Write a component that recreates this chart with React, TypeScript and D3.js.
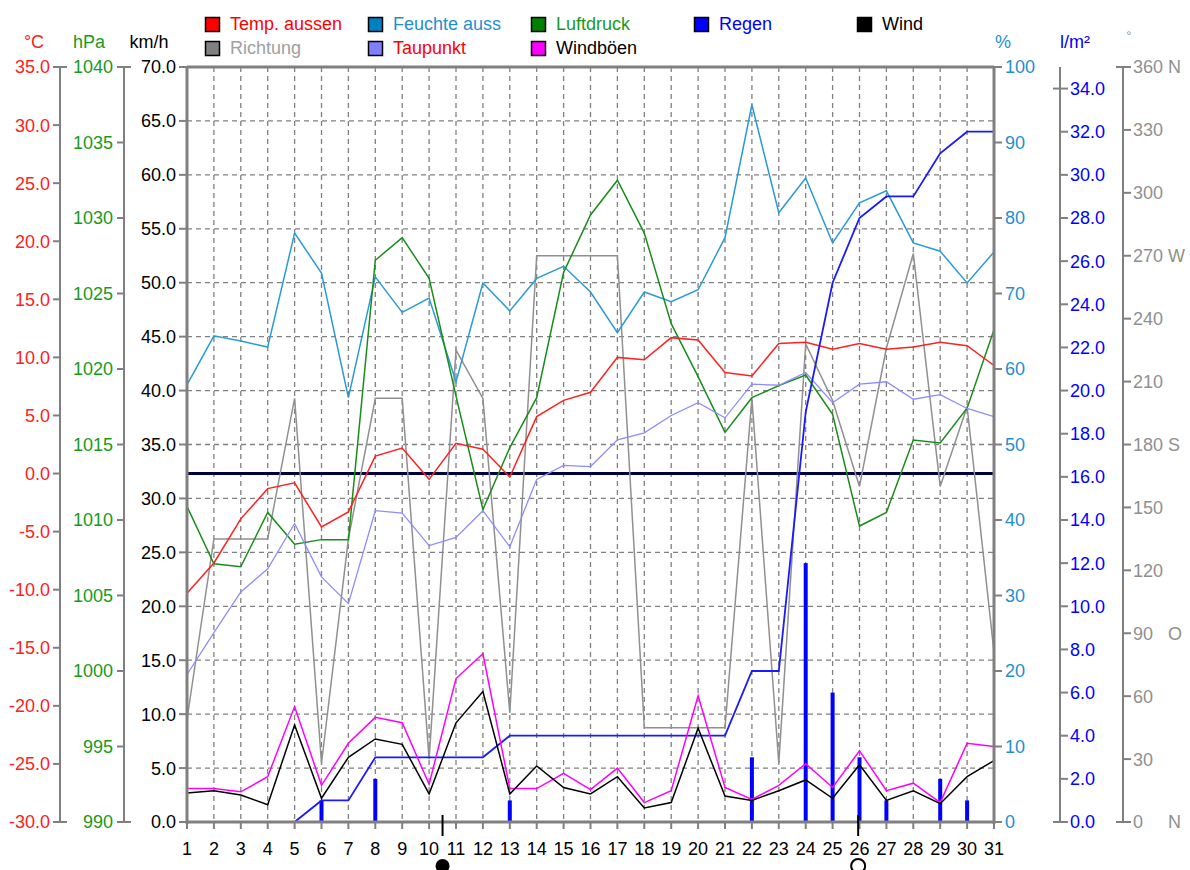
import React from "react";
import * as d3 from "d3";

// Tageswerte Monat, Tag 1..31
const days = d3.range(1, 32);

const tempAussen = [-10.3, -7.7, -3.9, -1.3, -0.8, -4.6, -3.3, 1.5, 2.2, -0.5, 2.6, 2.1, -0.3, 4.9, 6.3, 7.0, 10.0, 9.8, 11.7, 11.5, 8.7, 8.4, 11.2, 11.3, 10.7, 11.2, 10.7, 10.9, 11.3, 11.0, 9.3];
const taupunkt = [-17.3, -13.7, -10.2, -8.2, -4.3, -8.9, -11.2, -3.2, -3.4, -6.2, -5.5, -3.2, -6.3, -0.5, 0.7, 0.6, 2.9, 3.5, 5.0, 6.1, 4.8, 7.7, 7.6, 8.7, 6.1, 7.7, 7.9, 6.4, 6.8, 5.6, 4.9];
const feuchte = [57.9, 64.4, 63.7, 62.9, 78, 72.7, 56.2, 72.2, 67.5, 69.4, 58.3, 71.4, 67.7, 72.0, 73.6, 70.2, 64.8, 70.2, 68.9, 70.5, 77.4, 95, 80.7, 85.3, 76.7, 82, 83.6, 76.7, 75.6, 71.4, 75.5];
const luftdruck = [1010.9, 1007.1, 1006.9, 1010.5, 1008.4, 1008.7, 1008.7, 1027.2, 1028.7, 1026.0, 1018.2, 1010.7, 1014.8, 1018.1, 1026.4, 1030.2, 1032.5, 1029.0, 1023.0, 1019.5, 1015.8, 1018.1, 1018.9, 1019.6, 1017.0, 1009.6, 1010.5, 1015.3, 1015.1, 1017.4, 1022.6];
const richtung = [49, 135, 135, 135, 202, 28, 135, 202, 202, 30, 225, 202, 52, 270, 270, 270, 270, 45, 45, 45, 45, 202, 28, 228, 201, 160, 226, 271, 160, 198, 81];
const wind = [2.7, 2.9, 2.5, 1.6, 9.0, 2.2, 6.0, 7.7, 7.2, 2.6, 9.2, 12.1, 2.6, 5.2, 3.2, 2.6, 4.2, 1.3, 1.8, 8.7, 2.4, 2.0, 2.9, 3.9, 2.2, 5.3, 2.0, 2.9, 1.7, 4.2, 5.7];
const windboeen = [3.1, 3.1, 2.8, 4.2, 10.7, 3.4, 7.3, 9.7, 9.2, 3.5, 13.3, 15.6, 3.1, 3.1, 4.5, 3.0, 5.0, 1.8, 2.9, 11.7, 3.2, 2.1, 3.4, 5.4, 3.2, 6.6, 2.9, 3.6, 1.8, 7.3, 7.0];
const regenTag = [0, 0, 0, 0, 0, 1, 0, 2, 0, 0, 0, 0, 1, 0, 0, 0, 0, 0, 0, 0, 0, 3, 0, 12, 6, 3, 1, 0, 2, 1, 0];
const regenSumme: (number | null)[] = [null, null, null, null, 0, 1, 1, 3, 3, 3, 3, 3, 4, 4, 4, 4, 4, 4, 4, 4, 4, 7, 7, 19, 25, 28, 29, 29, 31, 32, 32];

const richtungLabels = ["0", "30", "60", "90", "120", "150", "180", "210", "240", "270", "300", "330", "360"];
const himmelsrichtung: Record<string, string> = { "0": "N", "90": "O", "180": "S", "270": "W", "360": "N" };

const neumond = 10.5;
const vollmond = 25.95;

const legend = [
  { name: "Temp. aussen", box: "#ff0000", text: "#ff0000", col: 0, row: 0 },
  { name: "Feuchte auss", box: "#0080c0", text: "#1e90d0", col: 1, row: 0 },
  { name: "Luftdruck", box: "#008000", text: "#1a9a1a", col: 2, row: 0 },
  { name: "Regen", box: "#0000ff", text: "#0000ff", col: 3, row: 0 },
  { name: "Wind", box: "#000000", text: "#000000", col: 4, row: 0 },
  { name: "Richtung", box: "#808080", text: "#a0a0a0", col: 0, row: 1 },
  { name: "Taupunkt", box: "#8080ff", text: "#ff0000", col: 1, row: 1 },
  { name: "Windböen", box: "#ff00ff", text: "#000000", col: 2, row: 1 },
];

const W = 1190;
const H = 870;
const L = 187;
const R = 994;
const T = 67;
const B = 822;
const FONT = "'Liberation Sans', Arial, sans-serif";

export default function App() {
  const x = d3.scaleLinear().domain([1, 31]).range([L, R]);
  const yKmh = d3.scaleLinear().domain([0, 70]).range([B, T]);
  const yTemp = d3.scaleLinear().domain([-30, 35]).range([B, T]);
  const yHpa = d3.scaleLinear().domain([990, 1040]).range([B, T]);
  const yHum = d3.scaleLinear().domain([0, 100]).range([B, T]);
  const yRain = d3.scaleLinear().domain([0, 35]).range([B, T]);
  const yDir = d3.scaleLinear().domain([0, 360]).range([B, T]);

  const mk = (vals: (number | null)[], y: d3.ScaleLinear<number, number>) =>
    d3
      .line<number | null>()
      .defined((v) => v !== null)
      .x((_, i) => x(days[i]))
      .y((v) => y(v as number))(vals) || "";

  const kmhTicks = d3.range(0, 70.1, 5);
  const tempTicks = d3.range(-30, 35.1, 5);
  const hpaTicks = d3.range(990, 1040.1, 5);
  const humTicks = d3.range(0, 100.1, 10);
  const rainTicks = d3.range(0, 34.1, 2);

  const txt = { fontFamily: FONT, fontSize: 18 };

  return (
    <svg width={W} height={H} style={{ position: "absolute", left: 0, top: 0, background: "#fff" }}>
      {/* Legende */}
      {legend.map((d) => (
        <g key={d.name} transform={`translate(${205 + d.col * 163},${17 + d.row * 24})`}>
          <rect x={0.5} y={0.5} width={14} height={14} fill={d.box} stroke="#000" strokeWidth={1.5} />
          <text x={25} y={13} fill={d.text} {...txt}>{d.name}</text>
        </g>
      ))}

      {/* Achsentitel */}
      <text x={34} y={48} fill="#ff2020" textAnchor="middle" {...txt}>°C</text>
      <text x={89} y={48} fill="#1a9a1a" textAnchor="middle" {...txt}>hPa</text>
      <text x={149} y={48} fill="#000" textAnchor="middle" {...txt}>km/h</text>
      <text x={1003} y={48} fill="#1e90d0" textAnchor="middle" {...txt}>%</text>
      <text x={1075} y={48} fill="#0000ff" textAnchor="middle" {...txt}>l/m²</text>
      <text x={1129} y={40} fill="#909090" textAnchor="middle" fontFamily={FONT} fontSize={12}>°</text>

      {/* Gitter */}
      {kmhTicks.slice(1, -1).map((t) => (
        <line key={"h" + t} x1={L} x2={R} y1={yKmh(t)} y2={yKmh(t)} stroke="#808080" strokeWidth={1.3} strokeDasharray="5,4" />
      ))}
      {days.slice(1, -1).map((d) => (
        <line key={"v" + d} x1={x(d)} x2={x(d)} y1={T} y2={B} stroke="#808080" strokeWidth={1.3} strokeDasharray="5,4" />
      ))}

      {/* °C Achse */}
      <line x1={60} x2={60} y1={T} y2={B} stroke="#808080" strokeWidth={2} />
      {tempTicks.map((t, i) => {
        const end = i === 0 || i === tempTicks.length - 1;
        return (
          <g key={"t" + t}>
            <line x1={53} x2={end ? 67 : 60} y1={yTemp(t)} y2={yTemp(t)} stroke="#808080" strokeWidth={2} />
            <text x={50} y={yTemp(t)} dy="0.36em" textAnchor="end" fill="#ff2020" {...txt}>{t.toFixed(1)}</text>
          </g>
        );
      })}

      {/* hPa Achse */}
      <line x1={124} x2={124} y1={T} y2={B} stroke="#808080" strokeWidth={2} />
      {hpaTicks.map((t, i) => {
        const end = i === 0 || i === hpaTicks.length - 1;
        return (
          <g key={"p" + t}>
            <line x1={117} x2={end ? 131 : 124} y1={yHpa(t)} y2={yHpa(t)} stroke="#808080" strokeWidth={2} />
            <text x={113} y={yHpa(t)} dy="0.36em" textAnchor="end" fill="#1a9a1a" {...txt}>{t}</text>
          </g>
        );
      })}

      {/* km/h Achse */}
      {kmhTicks.map((t) => (
        <g key={"k" + t}>
          <line x1={179} x2={L} y1={yKmh(t)} y2={yKmh(t)} stroke="#808080" strokeWidth={2} />
          <text x={176} y={yKmh(t)} dy="0.36em" textAnchor="end" fill="#000" {...txt}>{t.toFixed(1)}</text>
        </g>
      ))}

      {/* % Achse */}
      {humTicks.map((t) => (
        <g key={"f" + t}>
          <line x1={R} x2={R + 8} y1={yHum(t)} y2={yHum(t)} stroke="#808080" strokeWidth={2} />
          <text x={1005} y={yHum(t)} dy="0.36em" fill="#1e90d0" {...txt}>{t}</text>
        </g>
      ))}

      {/* l/m² Achse */}
      <line x1={1060} x2={1060} y1={T} y2={B} stroke="#808080" strokeWidth={2} />
      {rainTicks.map((t, i) => {
        const end = i === 0 || i === rainTicks.length - 1;
        return (
          <g key={"r" + t}>
            <line x1={end ? 1053 : 1060} x2={1068} y1={yRain(t)} y2={yRain(t)} stroke="#808080" strokeWidth={2} />
            <text x={1070} y={yRain(t)} dy="0.36em" fill="#0000ff" {...txt}>{t.toFixed(1)}</text>
          </g>
        );
      })}

      {/* Richtung Achse */}
      <line x1={1123} x2={1123} y1={T} y2={B} stroke="#808080" strokeWidth={2} />
      {richtungLabels.map((lab, i) => {
        const v = +lab;
        const end = i === 0 || i === richtungLabels.length - 1;
        return (
          <g key={"d" + lab}>
            <line x1={end ? 1116 : 1123} x2={1131} y1={yDir(v)} y2={yDir(v)} stroke="#808080" strokeWidth={2} />
            <text x={1133} y={yDir(v)} dy="0.36em" fill="#909090" {...txt}>{lab}</text>
            {himmelsrichtung[lab] && (
              <text x={1168} y={yDir(v)} dy="0.36em" fill="#909090" {...txt}>{himmelsrichtung[lab]}</text>
            )}
          </g>
        );
      })}

      {/* X Achse */}
      {days.map((d) => (
        <g key={"x" + d}>
          <line x1={x(d)} x2={x(d)} y1={B} y2={B + 7} stroke="#808080" strokeWidth={2} />
          <text x={x(d)} y={855} textAnchor="middle" fill="#000" {...txt}>{d}</text>
        </g>
      ))}

      {/* 0 °C Linie */}
      <line x1={L} x2={R} y1={yTemp(0)} y2={yTemp(0)} stroke="#000040" strokeWidth={3} />

      {/* Regen Balken */}
      {regenTag.map((v, i) =>
        v > 0 ? (
          <rect key={"b" + i} x={x(days[i]) - 2} y={yRain(v)} width={4} height={B - yRain(v)} fill="#0000ff" />
        ) : null
      )}

      {/* Linien */}
      <path d={mk(richtung, yDir)} fill="none" stroke="#909090" strokeWidth={1.5} />
      <path d={mk(feuchte, yHum)} fill="none" stroke="#2a9ad6" strokeWidth={1.5} />
      <path d={mk(luftdruck, yHpa)} fill="none" stroke="#1a8c1a" strokeWidth={1.5} />
      <path d={mk(taupunkt, yTemp)} fill="none" stroke="#8c8cff" strokeWidth={1.3} />
      <path d={mk(tempAussen, yTemp)} fill="none" stroke="#ff2020" strokeWidth={1.5} />
      <path d={mk(regenSumme, yRain)} fill="none" stroke="#1a1aff" strokeWidth={1.8} />
      <path d={mk(windboeen, yKmh)} fill="none" stroke="#ff00ff" strokeWidth={1.5} />
      <path d={mk(wind, yKmh)} fill="none" stroke="#000" strokeWidth={1.5} />

      {/* Rahmen */}
      <line x1={L} x2={R} y1={T} y2={T} stroke="#808080" strokeWidth={3} />
      <line x1={L} x2={R} y1={B} y2={B} stroke="#808080" strokeWidth={3} />
      <line x1={L} x2={L} y1={T} y2={B + 2} stroke="#808080" strokeWidth={3} />
      <line x1={R} x2={R} y1={T} y2={B + 2} stroke="#808080" strokeWidth={3} />

      {/* Mondphasen */}
      <line x1={x(neumond)} x2={x(neumond)} y1={815} y2={836} stroke="#000" strokeWidth={2} />
      <circle cx={x(neumond)} cy={866} r={7} fill="#000" />
      <line x1={x(vollmond)} x2={x(vollmond)} y1={815} y2={836} stroke="#000" strokeWidth={2} />
      <circle cx={x(vollmond)} cy={866} r={7} fill="#fff" stroke="#000" strokeWidth={2} />
    </svg>
  );
}
